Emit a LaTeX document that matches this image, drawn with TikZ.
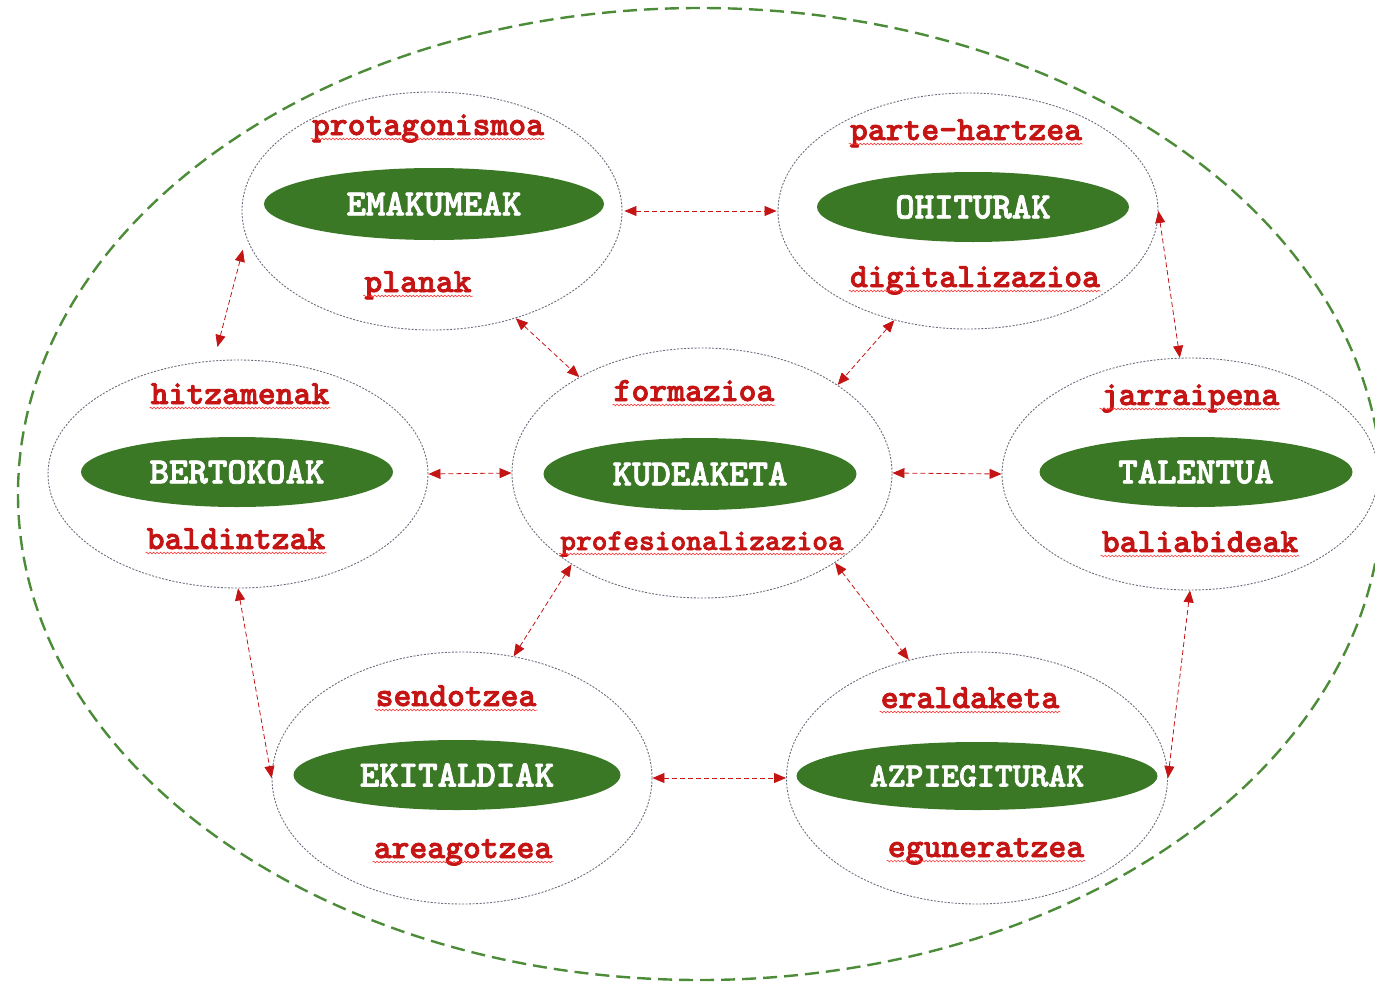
\documentclass[tikz,border=0pt]{standalone}
\usepackage{fontspec}
\newfontfamily\slabfont[Extension=.otf, FakeBold=2.2]{lmmonolt10-bold}
\usepackage{xcolor}
\usepackage{tikz}
\usetikzlibrary{shapes.geometric,arrows.meta,decorations.pathmorphing}
\definecolor{leafgreen}{RGB}{58,120,38}
\definecolor{ringgreen}{RGB}{76,140,56}
\definecolor{wordred}{RGB}{196,20,20}
\definecolor{zonegray}{RGB}{105,110,125}
\tikzset{>=Triangle}

\begin{document}
\begin{tikzpicture}[x=1pt, y=-1pt,
	zone/.style={ellipse, draw=zonegray, dash pattern=on 2pt off 1.5pt, line width=0.9pt, inner sep=0pt},
	hub/.style={ellipse, fill=leafgreen, text=white, inner sep=0pt, font=\fontsize{37}{37}\selectfont\slabfont},
	word/.style={text=wordred, inner sep=1pt, anchor=base, font=\fontsize{34}{34}\selectfont\slabfont},
	link/.style={wordred, line width=0.8pt, dash pattern=on 5pt off 3pt, {Triangle[length=12pt,width=10pt]}-{Triangle[length=12pt,width=10pt]}},
	squig/.style={red!85!white, line width=0.5pt, decorate, decoration={snake, amplitude=0.9pt, segment length=3.5pt}}]
			\useasboundingbox (0,0) rectangle (1375,982);
			
			% Outer boundary
			\draw[ringgreen, line width=2.4pt, dash pattern=on 14pt off 7pt] (700,494) ellipse [x radius=682pt, y radius=486pt];
			
			% Dotted zones
			\node[zone, minimum width=380pt, minimum height=238pt] (emak) at (432,211) {};
			\node[zone, minimum width=380pt, minimum height=236pt] (ohit) at (968,211) {};
			\node[zone, minimum width=380pt, minimum height=228pt] (bert) at (238,474) {};
			\node[zone, minimum width=380pt, minimum height=250pt] (kude) at (702,473) {};
			\node[zone, minimum width=376pt, minimum height=232pt] (tale) at (1190,474) {};
			\node[zone, minimum width=380pt, minimum height=252pt] (ekit) at (462,778) {};
			\node[zone, minimum width=381pt, minimum height=252pt] (azpi) at (977,778) {};
			
			% Green hubs
			\node[hub, minimum width=340pt, minimum height=72pt] (emakhub) at (434,204) {EMAKUMEAK};
			\node[hub, minimum width=312pt, minimum height=70pt] (ohithub) at (973,207) {OHITURAK};
			\node[hub, minimum width=312pt, minimum height=70pt] (berthub) at (237,472) {BERTOKOAK};
			\node[hub, minimum width=313pt, minimum height=72pt] (kudehub) at (700,474) {KUDEAKETA};
			\node[hub, minimum width=313pt, minimum height=70pt] (talehub) at (1196,472) {TALENTUA};
			\node[hub, minimum width=327pt, minimum height=70pt] (ekithub) at (457,775) {EKITALDIAK};
			\node[hub, minimum width=361pt, minimum height=68pt, font=\fontsize{34}{34}\selectfont\slabfont] (azpihub) at (977,776) {AZPIEGITURAK};
			
			% Red words
			\node[word] (protag) at (428,135) {protagonismoa};
			\node[word] (planak) at (418,292) {planak};
			\node[word] (parte) at (966,140) {parte-hartzea};
			\node[word] (digital) at (975,287) {digitalizazioa};
			\node[word] (hitz) at (240,404) {hitzamenak};
			\node[word] (baldin) at (236,549) {baldintzak};
			\node[word] (forma) at (694,401) {formazioa};
			\node[word, font=\fontsize{30}{30}\selectfont\slabfont] (profes) at (702,550) {profesionalizazioa};
			\node[word] (jarrai) at (1190,405) {jarraipena};
			\node[word] (balia) at (1200,552) {baliabideak};
			\node[word] (sendo) at (456,706) {sendotzea};
			\node[word] (areago) at (463,858) {areagotzea};
			\node[word] (eralda) at (970,708) {eraldaketa};
			\node[word] (egune) at (986,857) {eguneratzea};
			\foreach \w in {protag,planak,parte,digital,hitz,baldin,forma,profes,jarrai,balia,sendo,areago,eralda,egune}
				\draw[squig] ([yshift=-4pt]\w.base west) -- ([yshift=-4pt]\w.base east);
			
			% Links between zones
			\draw[link, shorten <=2pt, shorten >=1pt] (emak.east) -- (ohit.west);
			\draw[link] (ohit.east) -- (tale.95);
			\draw[link, shorten <=13pt, shorten >=14pt] (emak.188) -- (bert.102);
			\draw[link] (emak.-52) -- (kude.142);
			\draw[link] (ohit.236) -- (kude.33);
			\draw[link] (bert.east) -- (kude.west);
			\draw[link] (kude.east) -- (tale.west);
			\draw[link] (bert.south) -- (ekit.west);
			\draw[link] (kude.215) -- (ekit.67);
			\draw[link] (kude.-34) -- (azpi.120);
			\draw[link] (ekit.east) -- (azpi.west);
			\draw[link] (tale.south) -- (azpi.east);
		\end{tikzpicture}
\end{document}
